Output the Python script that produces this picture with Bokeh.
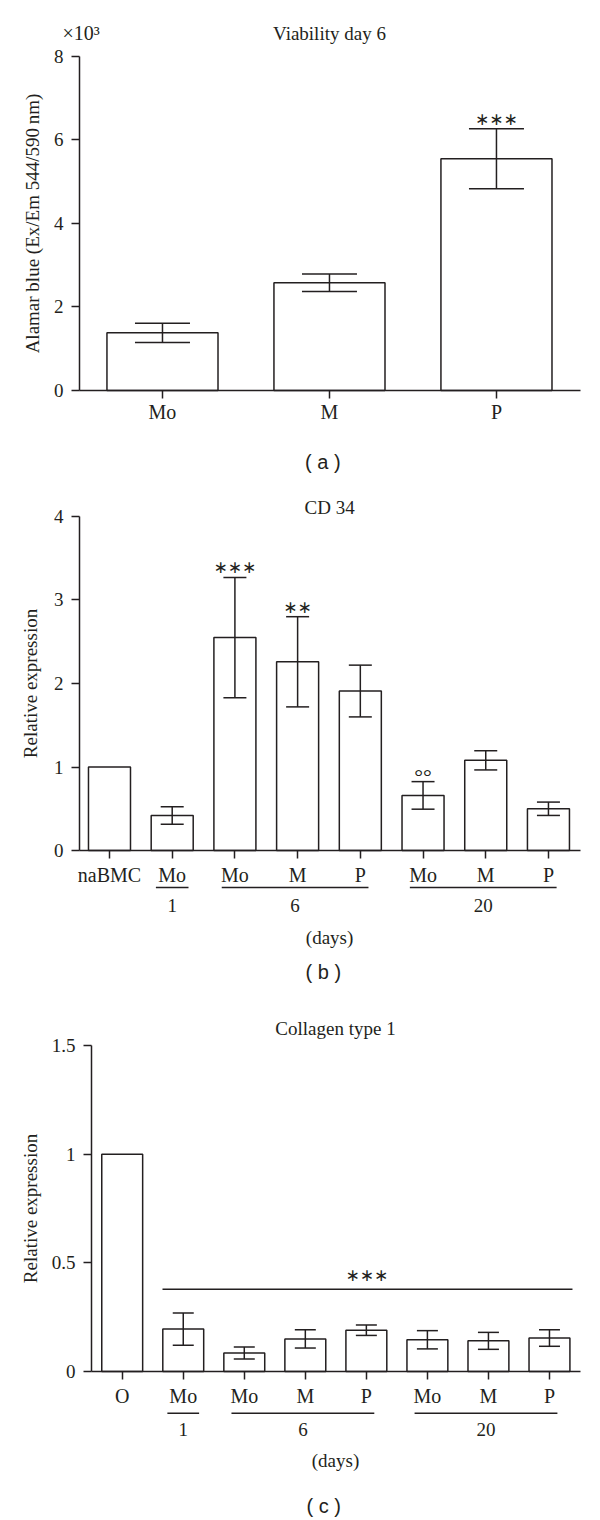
from bokeh.plotting import figure
from bokeh.layouts import column
from bokeh.models import (ColumnDataSource, Whisker, TeeHead, LinearAxis,
                          FixedTicker, Range1d)
from bokeh.core.properties import value
from bokeh.embed import file_html
from bokeh.resources import INLINE

# ---------------- data ----------------
# (a) Viability day 6
a_groups = ["Mo", "M", "P"]
a_values = [1.38, 2.58, 5.55]          # x10^3
a_errors = [0.23, 0.21, 0.72]
a_marks = ["", "", "∗∗∗"]
a_yticks = [0, 2, 4, 6, 8]

# (b) CD 34
b_groups = ["naBMC", "Mo", "Mo", "M", "P", "Mo", "M", "P"]
b_values = [1.00, 0.42, 2.55, 2.26, 1.91, 0.66, 1.08, 0.50]
b_errors = [0.00, 0.105, 0.72, 0.54, 0.31, 0.165, 0.115, 0.08]
b_marks = ["", "", "∗∗∗", "∗∗", "", "°°", "", ""]
b_yticks = [0, 1, 2, 3, 4]

# (c) Collagen type 1
c_groups = ["O", "Mo", "Mo", "M", "P", "Mo", "M", "P"]
c_values = [1.00, 0.195, 0.085, 0.15, 0.19, 0.146, 0.141, 0.154]
c_errors = [0.00, 0.074, 0.028, 0.042, 0.024, 0.042, 0.039, 0.038]
c_yticks = [0, 0.5, 1, 1.5]
c_ytick_labels = ["0", "0.5", "1", "1.5"]

day_labels = ["1", "6", "20"]
day_members = [[1], [2, 3, 4], [5, 6, 7]]

# ---------------- style ----------------
INK = "#231f20"
SERIF = "Liberation Serif"
SANS = "Liberation Sans"
LW = 1.5


def panel(h, xr, yr, y_at, x_end, yticks, ylabel, ylab_standoff, xlab_standoff,
          ylabels=None):
    p = figure(width=600, height=h, x_range=Range1d(*xr), y_range=Range1d(*yr),
               output_backend="svg", toolbar_location=None,
               x_axis_location=None, y_axis_location=None,
               min_border=0, min_border_left=0, min_border_right=0,
               min_border_top=0, min_border_bottom=0)
    p.outline_line_color = None
    p.background_fill_color = "white"
    p.border_fill_color = "white"
    p.xgrid.visible = False
    p.ygrid.visible = False

    xa = LinearAxis(fixed_location=0, bounds=(y_at, x_end))
    ya = LinearAxis(fixed_location=y_at, bounds=(yticks[0], yticks[-1]))
    for ax in (xa, ya):
        ax.axis_line_color = INK
        ax.axis_line_width = LW
        ax.major_tick_line_color = INK
        ax.major_tick_line_width = LW
        ax.major_tick_in = 0
        ax.major_tick_out = 8
        ax.minor_tick_line_color = None
        ax.major_label_text_font = SERIF
        ax.major_label_text_color = INK
        ax.axis_label_text_font = SERIF
        ax.axis_label_text_font_style = "normal"
        ax.axis_label_text_font_size = "19px"
        ax.axis_label_text_color = INK
    ya.ticker = FixedTicker(ticks=yticks)
    if ylabels:
        ya.major_label_overrides = {t: s for t, s in zip(yticks, ylabels)}
    ya.major_label_text_font_size = "19px"
    ya.major_label_standoff = 8
    ya.axis_label = ylabel
    ya.axis_label_standoff = ylab_standoff
    xa.major_label_text_font_size = "20px"
    xa.major_label_standoff = xlab_standoff
    p.add_layout(xa, "below")
    p.add_layout(ya, "left")
    return p, xa


def bars(p, xa, groups, values, errors, bar_w, tee):
    xs = list(range(len(groups)))
    xa.ticker = FixedTicker(ticks=xs)
    xa.major_label_overrides = {i: g for i, g in zip(xs, groups)}
    p.vbar(x=xs, top=values, bottom=0, width=bar_w, fill_color="white",
           line_color=INK, line_width=LW)
    ex = [x for x, e in zip(xs, errors) if e > 0]
    up = [v + e for v, e in zip(values, errors) if e > 0]
    lo = [v - e for v, e in zip(values, errors) if e > 0]
    src = ColumnDataSource(dict(x=ex, upper=up, lower=lo))
    p.add_layout(Whisker(source=src, base="x", upper="upper", lower="lower",
                         dimension="height", line_color=INK, line_width=LW,
                         level="annotation",
                         upper_head=TeeHead(size=tee, line_color=INK, line_width=LW),
                         lower_head=TeeHead(size=tee, line_color=INK, line_width=LW)))
    return xs


def txt(p, x, y, text, font=SERIF, size="19px", align="center", y_offset=0):
    p.text(x=x, y=y, text=text, text_font=value(font), text_font_size=size,
           text_color=INK, text_align=align, text_baseline="middle",
           y_offset=y_offset)


def marks(p, xs, values, errors, texts):
    for x, v, e, t in zip(xs, values, errors, texts):
        if not t:
            continue
        if t.startswith("°"):
            txt(p, [x], [v + e], [t], font=SERIF, size="22px", y_offset=-5)
        else:
            txt(p, [x], [v + e], [t], font="DejaVu Sans", size="17px", y_offset=-10)


def day_groups(p, y_line, y_text):
    for lab, mem in zip(day_labels, day_members):
        if len(mem) == 1:
            x0, x1 = mem[0] - 0.26, mem[-1] + 0.26
        else:
            x0, x1 = mem[0] - 0.21, mem[-1] + 0.13
        p.segment(x0=[x0], y0=[y_line], x1=[x1], y1=[y_line],
                  line_color=INK, line_width=LW)
        txt(p, [(x0 + x1) / 2], [y_text], [lab])


# ---------------- panel a ----------------
pa, xa_a = panel(480, (-0.970, 2.623), (-2.156, 9.341), -0.497, 2.503, a_yticks,
                 "Alamar blue (Ex/Em 544/590\u2009nm)", 8, 3)
xs_a = bars(pa, xa_a, a_groups, a_values, a_errors, 0.665, 55)
marks(pa, xs_a, a_values, a_errors, a_marks)
txt(pa, [1.0], [8.551], ["Viability day 6"])
txt(pa, [-0.599], [8.551], ["×10³"], align="left", size="20px")
txt(pa, [0.96], [-1.72], ["( a )"], font=SANS, size="20px")

# ---------------- panel b ----------------
pb, xa_b = panel(520, (-1.738, 7.830), (-1.796, 4.431), -0.478, 7.511, b_yticks,
                 "Relative expression", 10, 5)
xs_b = bars(pb, xa_b, b_groups, b_values, b_errors, 0.67, 23)
marks(pb, xs_b, b_values, b_errors, b_marks)
txt(pb, [3.51], [4.111], ["CD 34"])
day_groups(pb, -0.443, -0.659)
txt(pb, [3.51], [-1.039], ["(days)"])
txt(pb, [3.41], [-1.457], ["( b )"], font=SANS, size="20px")

# ---------------- panel c ----------------
pc, xa_c = panel(520, (-1.994, 7.836), (-0.6856, 1.7071), -0.503, 7.508, c_yticks,
                 "Relative expression", 8, 5, c_ytick_labels)
xs_c = bars(pc, xa_c, c_groups, c_values, c_errors, 0.67, 21)
pc.segment(x0=[1 - 0.34], y0=[0.378], x1=[7 + 0.377], y1=[0.378],
           line_color=INK, line_width=LW)
txt(pc, [4.01], [0.442], ["∗∗∗"], font="DejaVu Sans", size="17px")
txt(pc, [3.494], [1.577], ["Collagen type 1"])
day_groups(pc, -0.192, -0.267)
txt(pc, [3.494], [-0.41], ["(days)"])
txt(pc, [3.30], [-0.617], ["( c )"], font=SANS, size="20px")

layout = column(pa, pb, pc, spacing=0)
open("out.html", "w").write(file_html(layout, INLINE))
